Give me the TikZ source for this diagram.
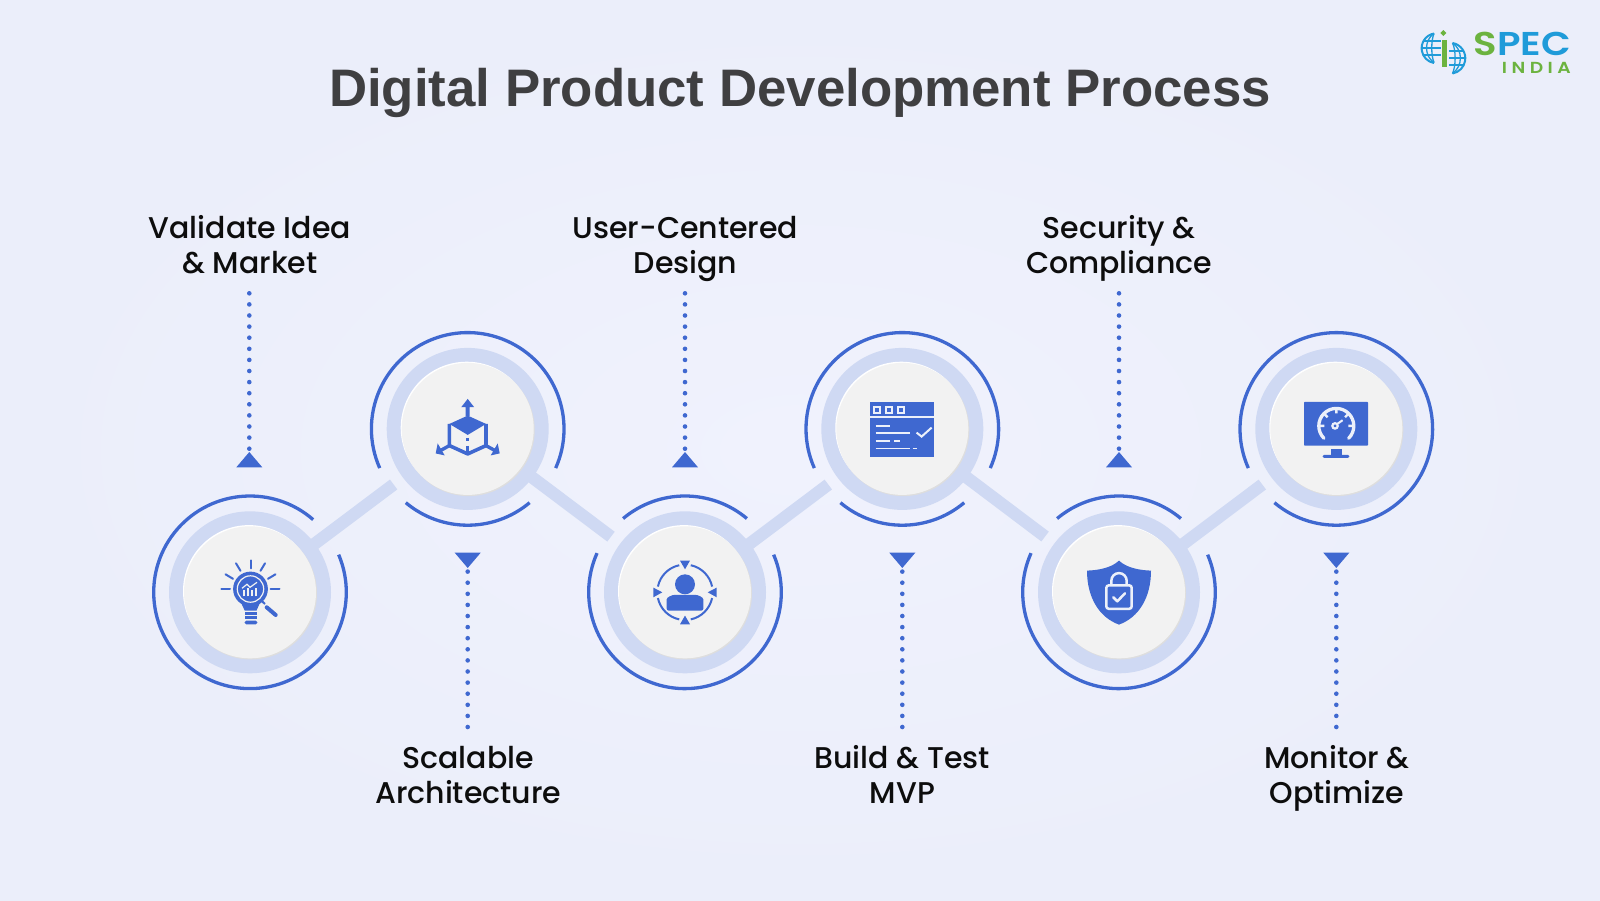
\documentclass[tikz,border=0pt]{standalone}
\usepackage{xcolor}
\usepackage{fontspec}
\usetikzlibrary{calc,positioning,shapes.geometric}
\setmainfont{Liberation Sans}
\newfontfamily\labelfont{Poppins Medium}
\newfontfamily\logofont[FakeStretch=1.17]{Poppins SemiBold}
\definecolor{specblue}{HTML}{3F68D0}
\definecolor{ringblue}{HTML}{CFD9F3}
\definecolor{discgrey}{HTML}{F2F2F2}
\definecolor{titlegrey}{HTML}{3F3F41}
\definecolor{logoblue}{HTML}{1F9BD9}
\definecolor{logogreen}{HTML}{6CB33F}
\definecolor{pagemid}{HTML}{F0F2FD}
\definecolor{pageedge}{HTML}{EBEEFA}
\tikzset{
  hubring/.style = {circle, fill=ringblue, inner sep=0pt, minimum size=162pt},
  hubdisc/.style = {circle, fill=discgrey, inner sep=0pt, minimum size=132pt},
  hubarc/.style = {draw=specblue, line width=3.3pt},
  link/.style = {draw=ringblue, line width=12.3pt},
  dotline/.style = {draw=specblue, line width=4.6pt, line cap=round, dash pattern=on 0pt off 11.1pt},
  tipmark/.style = {isosceles triangle, isosceles triangle apex angle=80.7, isosceles triangle stretches, minimum width=26pt, minimum height=15.3pt, inner sep=0pt, fill=specblue, anchor=apex},
  steplabel/.style = {align=center, anchor=base, text=black!95, font=\labelfont\fontsize{30}{35.3}\selectfont},
  iconline/.style = {draw=specblue, line width=2pt},
  iconwhite/.style = {draw=discgrey, line width=1.7pt},
  panelwhite/.style = {draw=white!90!specblue, line width=1.7pt}
}
\begin{document}
\begin{tikzpicture}[x=1pt,y=1pt]
	\useasboundingbox (0,0) rectangle (1600,-900);
	\shade[inner color=pagemid, outer color=pageedge] (0,0) rectangle (1600,-900);

	\node [anchor=base, text=titlegrey, font=\bfseries\fontsize{52.8}{60}\selectfont] (title) at (800,-106.7) {Digital Product Development Process};

	\node [hubring] (ring1) at (250,-592.3) {};
	\node [hubring] (ring2) at (467.7,-428.9) {};
	\node [hubring] (ring3) at (685,-592.3) {};
	\node [hubring] (ring4) at (902.3,-428.9) {};
	\node [hubring] (ring5) at (1119,-592.3) {};
	\node [hubring] (ring6) at (1336.3,-428.9) {};

	\draw [link] (ring1.center) -- ($(ring2.center)!92.6pt!(ring1.center)$);
	\draw [link] (ring2.center) -- ($(ring3.center)!92.6pt!(ring2.center)$);
	\draw [link] (ring3.center) -- ($(ring4.center)!92.6pt!(ring3.center)$);
	\draw [link] (ring4.center) -- ($(ring5.center)!92.6pt!(ring4.center)$);
	\draw [link] (ring5.center) -- ($(ring6.center)!92.6pt!(ring5.center)$);

	\draw [hubarc] (ring1.center) ++(49:96.3) arc[start angle=49, end angle=383, radius=96.3];
	\draw [hubarc] (ring2.center) ++(-24:96.3) arc[start angle=-24, end angle=204, radius=96.3];
	\draw [hubarc] (ring2.center) ++(230:96.3) arc[start angle=230, end angle=310, radius=96.3];
	\draw [hubarc] (ring3.center) ++(50:96.3) arc[start angle=50, end angle=130, radius=96.3];
	\draw [hubarc] (ring3.center) ++(156:96.3) arc[start angle=156, end angle=383, radius=96.3];
	\draw [hubarc] (ring4.center) ++(-24:96.3) arc[start angle=-24, end angle=204, radius=96.3];
	\draw [hubarc] (ring4.center) ++(230:96.3) arc[start angle=230, end angle=310, radius=96.3];
	\draw [hubarc] (ring5.center) ++(50:96.3) arc[start angle=50, end angle=130, radius=96.3];
	\draw [hubarc] (ring5.center) ++(156:96.3) arc[start angle=156, end angle=383, radius=96.3];
	\draw [hubarc] (ring6.center) ++(230:96.3) arc[start angle=230, end angle=564, radius=96.3];

	\fill [white] ($(ring1.center)+(-1,1.2)$) circle (66);
	\fill [black!13] ($(ring1.center)+(1,-1.2)$) circle (66);
	\node [hubdisc] (hub1) at (ring1.center) {};
	\fill [white] ($(ring2.center)+(-1,1.2)$) circle (66);
	\fill [black!13] ($(ring2.center)+(1,-1.2)$) circle (66);
	\node [hubdisc] (hub2) at (ring2.center) {};
	\fill [white] ($(ring3.center)+(-1,1.2)$) circle (66);
	\fill [black!13] ($(ring3.center)+(1,-1.2)$) circle (66);
	\node [hubdisc] (hub3) at (ring3.center) {};
	\fill [white] ($(ring4.center)+(-1,1.2)$) circle (66);
	\fill [black!13] ($(ring4.center)+(1,-1.2)$) circle (66);
	\node [hubdisc] (hub4) at (ring4.center) {};
	\fill [white] ($(ring5.center)+(-1,1.2)$) circle (66);
	\fill [black!13] ($(ring5.center)+(1,-1.2)$) circle (66);
	\node [hubdisc] (hub5) at (ring5.center) {};
	\fill [white] ($(ring6.center)+(-1,1.2)$) circle (66);
	\fill [black!13] ($(ring6.center)+(1,-1.2)$) circle (66);
	\node [hubdisc] (hub6) at (ring6.center) {};

	\node [steplabel] (lab1) at (249.8,-273.4) {Validate Idea\\\& Market};
	\node [steplabel] (lab2) at (468.2,-803.6) {Scalable\\Architecture};
	\node [steplabel] (lab3) at (685.5,-273.4) {User-Centered\\Design};
	\node [steplabel] (lab4) at (902.3,-803.6) {Build \& Test\\MVP};
	\node [steplabel] (lab5) at (1119,-273.4) {Security \&\\Compliance};
	\node [steplabel] (lab6) at (1336.8,-803.6) {Monitor \&\\Optimize};

	\node [tipmark, shape border rotate=90] (tip1) at (249.3,-451.7) {};
	\node [tipmark, shape border rotate=270] (tip2) at (467.7,-568.3) {};
	\node [tipmark, shape border rotate=90] (tip3) at (685,-451.7) {};
	\node [tipmark, shape border rotate=270] (tip4) at (902.3,-568.3) {};
	\node [tipmark, shape border rotate=90] (tip5) at (1119,-451.7) {};
	\node [tipmark, shape border rotate=270] (tip6) at (1336.3,-568.3) {};

	\coordinate (foot1) at (249.3,-293.3);
	\coordinate (foot2) at (467.7,-727);
	\coordinate (foot3) at (685,-293.3);
	\coordinate (foot4) at (902.3,-727);
	\coordinate (foot5) at (1119,-293.3);
	\coordinate (foot6) at (1336.3,-727);
	\draw [dotline] (foot1) -- (tip1.apex);
	\draw [dotline] (foot2) -- (tip2.apex);
	\draw [dotline] (foot3) -- (tip3.apex);
	\draw [dotline] (foot4) -- (tip4.apex);
	\draw [dotline] (foot5) -- (tip5.apex);
	\draw [dotline] (foot6) -- (tip6.apex);

	\begin{scope}[shift={(hub1.center)}, yscale=-1]
		\fill [specblue] (0.5,-3.3) circle (17.4);
		\fill [specblue] (-10.5,7) -- (11.5,7) -- (6.5,18.3) -- (-5.3,18.3) -- cycle;
		\draw [iconwhite, line width=1.2pt] (0.5,-3.3) circle (13.2);
		\draw [iconwhite, line width=2pt] (-6,4) -- (-6,-2) (-2.5,4) -- (-2.5,-4) (1.5,4) -- (1.5,-2) (5.5,4) -- (5.5,-4);
		\draw [iconwhite, line width=1.2pt] (-8,-4) -- (-3,-8) -- (0,-5) -- (7,-10);
		\fill [specblue] (-5.3,20) rectangle (7.3,22.3);
		\fill [specblue] (-5.3,24) rectangle (7.3,26.7);
		\fill [specblue, rounded corners=1.5pt] (-5.3,28.3) rectangle (7.3,32);
		\draw [iconline, line width=4pt, line cap=round] (16.7,15) -- (25.7,22.7);
		\draw [iconline] (10.7,7.7) -- (15,11.7);
		\draw [iconline, line cap=round] (-28.7,-3.3) -- (-20,-3.3) (20.5,-3.3) -- (29.5,-3.3) (0.5,-32) -- (0.5,-24);
		\draw [iconline, line cap=round] (-24.5,-18) -- (-17,-13.5) (25.5,-18) -- (18,-13.5) (-14,-29) -- (-9.5,-21.5) (15,-29) -- (10.5,-21.5);
	\end{scope}

	\begin{scope}[shift={(hub2.center)}, yscale=-1]
		\fill [specblue] (0,-30) -- (6.5,-21.7) -- (2,-21.7) -- (2,-13) -- (-2,-13) -- (-2,-21.7) -- (-6.5,-21.7) -- cycle;
		\fill [specblue] (0,-13.3) -- (18.3,-5) -- (0,6) -- (-18.3,-5) -- cycle;
		\draw [iconline, line width=3.6pt, line join=round] (18.3,-5) -- (18.3,16.7) -- (0,25) -- (-18.3,16.7) -- (-18.3,-5);
		\draw [iconline, line width=3.2pt] (0,9) -- (0,12) (0,17) -- (0,25);
		\draw [iconline, line width=3.4pt] (-18.3,16.7) -- (-27,21.5) (18.3,16.7) -- (27,21.5);
		\fill [specblue] (-30,14.5) -- (-32,24.5) -- (-23,26.5) -- cycle;
		\fill [specblue] (30,14.5) -- (32,24.5) -- (23,26.5) -- cycle;
	\end{scope}

	\begin{scope}[shift={(hub3.center)}, yscale=-1]
		\fill [specblue] (0,-8) circle (10);
		\fill [specblue, rounded corners=2pt] (-18.3,18.3) -- (-18.3,9) .. controls (-18.3,5) and (-13,2.5) .. (-8,2.5) -- (8,2.5) .. controls (13,2.5) and (18.3,5) .. (18.3,9) -- (18.3,18.3) -- cycle;
		\fill [specblue] (-5,-31.7) -- (5,-31.7) -- (0,-23) -- cycle;
		\fill [specblue] (-5,32) -- (5,32) -- (0,23.3) -- cycle;
		\fill [specblue] (-31.7,-4.7) -- (-31.7,5) -- (-22.7,0) -- cycle;
		\fill [specblue] (31.7,-4.7) -- (31.7,5) -- (22.7,0) -- cycle;
		\draw [iconline] (12:27.7) arc[start angle=12, end angle=78, radius=27.7];
		\draw [iconline] (102:27.7) arc[start angle=102, end angle=168, radius=27.7];
		\draw [iconline] (192:27.7) arc[start angle=192, end angle=258, radius=27.7];
		\draw [iconline] (282:27.7) arc[start angle=282, end angle=348, radius=27.7];
	\end{scope}

	\begin{scope}[shift={(hub4.center)}, yscale=-1]
		\fill [specblue] (-32.3,-27) rectangle (31.7,27.7);
		\draw [panelwhite, line width=2pt] (-32.3,-11.5) -- (31.7,-11.5);
		\draw [panelwhite, line width=1.8pt] (-28.3,-22.3) rectangle (-22.3,-16.3) (-16.3,-22.3) rectangle (-10.3,-16.3) (-4.3,-22.3) rectangle (1.7,-16.3);
		\draw [panelwhite] (-26.7,-2.7) -- (-12.3,-2.7) (-26.7,4) -- (7.7,4) (-26.7,12) -- (-12.3,12) (-8.3,12) -- (-2.3,12) (-26.7,19.7) -- (7.7,19.7) (10.3,19.7) -- (15,19.7);
		\draw [panelwhite, line width=2pt] (14.3,3.7) -- (19.3,7.7) -- (29.3,-1.3);
	\end{scope}

	\begin{scope}[shift={(hub5.center)}, yscale=-1]
		\fill [specblue] (0,-31.7) .. controls (-8,-24) and (-22,-22) .. (-32,-21.7) .. controls (-32,5) and (-20,25) .. (0,32.3) .. controls (20,25) and (32,5) .. (32,-21.7) .. controls (22,-22) and (8,-24) .. cycle;
		\draw [panelwhite, line width=2.5pt, rounded corners=2.5pt] (-12.7,-7) rectangle (12.7,16.5);
		\draw [panelwhite, line width=2.5pt] (-7.7,-7) -- (-7.7,-11.5) arc[start angle=180, end angle=360, radius=7.7] -- (7.7,-7);
		\draw [panelwhite, line width=2.5pt, line cap=round, line join=round] (-5.7,5) -- (-1.7,9) -- (6,1);
	\end{scope}

	\begin{scope}[shift={(hub6.center)}, yscale=-1]
		\fill [specblue, rounded corners=0.7pt] (-32.3,-27) rectangle (31.7,16.7);
		\fill [specblue] (-5.7,20.3) rectangle (5.3,26.5);
		\fill [specblue, rounded corners=1.4pt] (-13.7,26) rectangle (13,29);
		\draw [panelwhite, line width=3.3pt, line cap=round] (135:17.5) ++(0,-3) arc[start angle=135, end angle=405, radius=17.5];
		\draw [panelwhite, line width=2.4pt] (-17,-3) -- (-12,-3) (17,-3) -- (12,-3) (0,-20) -- (0,-15.5) (-12,-15) -- (-8.7,-11.7) (12,-15) -- (8.7,-11.7);
		\draw [panelwhite, line width=2.2pt] (-1.3,-3) circle (2.7);
		\draw [panelwhite, line width=2pt] (1,-5) -- (6.3,-8.7);
	\end{scope}

	\draw [logoblue, line width=2pt] (1434,-33.5) arc[start angle=100, end angle=260, radius=15];
	\draw [logoblue, line width=1.3pt] (1434,-33.5) .. controls (1424,-40) and (1424,-56) .. (1434,-62.5);
	\draw [logoblue, line width=1.3pt] (1434,-33.5) .. controls (1431,-40) and (1431,-56) .. (1434,-62.5);
	\draw [logoblue, line width=1.3pt] (1424,-41) -- (1441,-41) (1422,-48) -- (1441,-48) (1424,-55) -- (1441,-55);
	\draw [logoblue, line width=2pt] (1452.5,-43) arc[start angle=80, end angle=-80, radius=15.5];
	\draw [logoblue, line width=1.3pt] (1452.5,-43) .. controls (1463,-50) and (1463,-66) .. (1452.5,-73.5);
	\draw [logoblue, line width=1.3pt] (1452.5,-43) .. controls (1456,-50) and (1456,-66) .. (1452.5,-73.5);
	\draw [logoblue, line width=1.3pt] (1449,-51) -- (1464,-51) (1449,-58) -- (1466,-58) (1449,-65) -- (1464,-65);
	\fill [logogreen] (1441.7,-40.3) rectangle (1447,-67);
	\fill [logogreen] (1443.3,-30) -- (1446.3,-33) -- (1443.3,-36) -- (1440.3,-33) -- cycle;

	\node [anchor=base east, inner sep=0pt, align=right, font=\logofont] (logo) at (1571,-73) {{\fontsize{33}{18}\selectfont\textcolor{logogreen}{S}\textcolor{logoblue}{PEC}}\\[6pt]{\fontsize{16}{18}\selectfont\textcolor{logogreen}{I\hspace{4.5pt}N\hspace{4.5pt}D\hspace{4.5pt}I\hspace{4.5pt}A}}};
\end{tikzpicture}
\end{document}
